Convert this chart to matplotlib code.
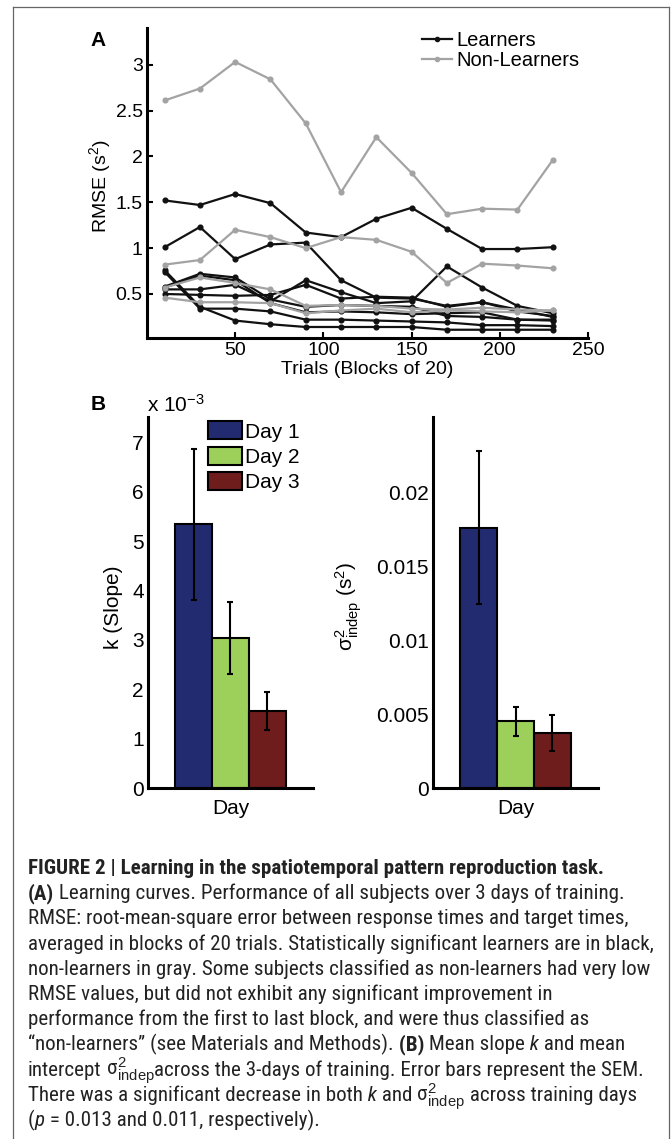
import matplotlib
matplotlib.use('Agg')
import matplotlib.pyplot as plt
from matplotlib import font_manager
from matplotlib.lines import Line2D
from matplotlib.patches import Patch

plt.rcParams['font.family'] = ['Liberation Sans', 'DejaVu Sans']
plt.rcParams['mathtext.fontset'] = 'custom'
plt.rcParams['mathtext.rm'] = 'Liberation Sans'
plt.rcParams['mathtext.it'] = 'Liberation Sans:italic'
plt.rcParams['mathtext.bf'] = 'Liberation Sans:bold'

# caption font: a narrow/condensed face if one is installed
cap_font, cap_stretch = 'Liberation Sans', 'normal'
entries = font_manager.fontManager.ttflist
narrow = [f.name for f in entries if 'Narrow' in f.name or 'Condensed' in f.name]
stretched = [f for f in entries if str(f.stretch) in ('condensed', 'semi-condensed', '500', '600', '700')
             and f.name in ('Liberation Sans', 'Roboto', 'Open Sans', 'DejaVu Sans', 'Noto Sans', 'Inter', 'Lato')]
if narrow:
    cap_font = sorted(narrow, key=lambda n: ('Liberation' not in n, 'Roboto' not in n))[0]
elif stretched:
    cap_font, cap_stretch = stretched[0].name, 'condensed'

# panel A: RMSE per block, one list per subject
trials = [10, 30, 50, 70, 90, 110, 130, 150, 170, 190, 210, 230]
l1 = [1.52, 1.47, 1.59, 1.49, 1.17, 1.12, 1.32, 1.44, 1.21, 0.99, 0.99, 1.01]
l2 = [1.01, 1.23, 0.88, 1.04, 1.06, 0.65, 0.46, 0.45, 0.37, 0.41, 0.33, 0.25]
l3 = [0.76, 0.36, 0.21, 0.17, 0.14, 0.14, 0.14, 0.14, 0.11, 0.11, 0.11, 0.11]
l4 = [0.74, 0.34, 0.34, 0.31, 0.22, 0.22, 0.21, 0.20, 0.19, 0.16, 0.16, 0.15]
l5 = [0.58, 0.72, 0.68, 0.44, 0.36, 0.38, 0.37, 0.36, 0.26, 0.25, 0.22, 0.22]
l6 = [0.55, 0.55, 0.60, 0.42, 0.65, 0.52, 0.40, 0.42, 0.80, 0.57, 0.37, 0.29]
l7 = [0.50, 0.49, 0.48, 0.49, 0.60, 0.45, 0.47, 0.46, 0.36, 0.41, 0.31, 0.26]
l8 = [0.57, 0.70, 0.65, 0.40, 0.30, 0.31, 0.30, 0.28, 0.29, 0.30, 0.22, 0.21]
n1 = [2.61, 2.74, 3.03, 2.84, 2.36, 1.61, 2.21, 1.82, 1.37, 1.43, 1.42, 1.96]
n2 = [0.82, 0.87, 1.20, 1.12, 1.00, 1.12, 1.09, 0.96, 0.62, 0.83, 0.81, 0.78]
n3 = [0.57, 0.68, 0.62, 0.55, 0.37, 0.38, 0.37, 0.34, 0.33, 0.35, 0.33, 0.32]
n4 = [0.46, 0.41, 0.41, 0.40, 0.29, 0.32, 0.34, 0.30, 0.32, 0.31, 0.30, 0.32]
learners = [l1, l2, l3, l4, l5, l6, l7, l8]
non_learners = [n1, n2, n3, n4]

# panel B: mean and SEM per day
days = ['Day 1', 'Day 2', 'Day 3']
slope_mean = [5.35, 3.05, 1.56]      # x 1e-3
slope_sem = [1.53, 0.73, 0.38]
indep_mean = [0.0176, 0.0045, 0.0037]
indep_sem = [0.0052, 0.0010, 0.0012]
day_colors = ['#222b70', '#9dd05a', '#6e1c1c']

W, H = 671, 1139
fig = plt.figure(figsize=(W / 100, H / 100), dpi=100)
fa = 14     # panel A text
fb = 15     # panel B text
black = '#111111'
gray = '#a3a3a3'


def style_axes(ax, ticklen, size):
    for s in ['top', 'right']:
        ax.spines[s].set_visible(False)
    for s in ['left', 'bottom']:
        ax.spines[s].set_linewidth(2.2)
    ax.tick_params(direction='in', length=ticklen, width=1.5, labelsize=size, pad=3)


# ---- panel A
ax = fig.add_axes([147 / W, 1 - 338 / H, 441 / W, 310 / H])
for y in learners:
    ax.plot(trials, y, color=black, lw=1.6, marker='o', ms=3.4)
for y in non_learners:
    ax.plot(trials, y, color=gray, lw=1.6, marker='o', ms=3.4)
ax.set_xlim(0, 250)
ax.set_ylim(0.02, 3.4)
ax.set_xticks([50, 100, 150, 200, 250])
ax.set_yticks([0.5, 1, 1.5, 2, 2.5, 3])
ax.set_yticklabels(['0.5', '1', '1.5', '2', '2.5', '3'])
style_axes(ax, 4, fa)
ax.text(-0.107, 0.49, 'RMSE (s$^2$)', transform=ax.transAxes, rotation=90,
        ha='center', va='center', fontsize=fa)
ax.text(0.5, -0.103, 'Trials (Blocks of 20)', transform=ax.transAxes,
        ha='center', va='center', fontsize=fa)
handles = [Line2D([], [], color=black, lw=1.6, marker='o', ms=3),
           Line2D([], [], color=gray, lw=1.6, marker='o', ms=3)]
ax.legend(handles, ['Learners', 'Non-Learners'], loc='upper left',
          bbox_to_anchor=(0.624, 0.99), frameon=False, fontsize=14.5,
          handlelength=1.5, handletextpad=0.2, labelspacing=0.05,
          borderpad=0, borderaxespad=0)

fig.text(98 / W, 1 - 40 / H, 'A', fontsize=15, fontweight='bold', ha='center', va='center')
fig.text(98 / W, 1 - 405 / H, 'B', fontsize=15, fontweight='bold', ha='center', va='center')

# ---- panel B
pos = [1, 2, 3]
axl = fig.add_axes([148 / W, 1 - 788 / H, 165 / W, 371 / H])
axl.bar(pos, slope_mean, width=1, color=day_colors, edgecolor='black', lw=1.5)
axl.errorbar(pos, slope_mean, yerr=slope_sem, fmt='none', ecolor='black',
             elinewidth=1.5, capsize=2, capthick=1.5)
axl.set_xlim(-0.23, 4.23)
axl.set_ylim(0, 7.52)
axl.set_yticks(range(8))
axl.set_xticks([])
style_axes(axl, 0, fb)
axl.text(-0.21, 0.488, 'k (Slope)', transform=axl.transAxes, rotation=90,
         ha='center', va='center', fontsize=fb)
axl.text(0.5, -0.055, 'Day', transform=axl.transAxes, ha='center', va='center', fontsize=fb)
fig.text(147 / W, 1 - 405 / H, 'x 10$^{-3}$', fontsize=fb, ha='left', va='center')
patches = [Patch(facecolor=c, edgecolor='black', lw=1.5) for c in day_colors]
axl.legend(patches, days, loc='upper left', bbox_to_anchor=(0.364, 0.988),
           frameon=False, fontsize=fb, handlelength=1.65, handleheight=0.95,
           handletextpad=0.12, labelspacing=0.25, borderpad=0, borderaxespad=0)

axr = fig.add_axes([433 / W, 1 - 788 / H, 165 / W, 371 / H])
axr.bar(pos, indep_mean, width=1, color=day_colors, edgecolor='black', lw=1.5)
axr.errorbar(pos, indep_mean, yerr=indep_sem, fmt='none', ecolor='black',
             elinewidth=1.5, capsize=2, capthick=1.5)
axr.set_xlim(-0.23, 4.23)
axr.set_ylim(0, 0.02507)
axr.set_yticks([0, 0.005, 0.01, 0.015, 0.02])
axr.set_yticklabels(['0', '0.005', '0.01', '0.015', '0.02'])
axr.set_xticks([])
style_axes(axr, 0, fb)
axr.text(-0.51, 0.49, r'$\mathrm{\sigma}^2_{\mathrm{indep}}$ (s$^2$)', transform=axr.transAxes,
         rotation=90, ha='center', va='center', fontsize=fb)
axr.text(0.5, -0.055, 'Day', transform=axr.transAxes, ha='center', va='center', fontsize=fb)

# ---- frame
for xs, ys in [([13, 13], [7, H]), ([13, 669], [7, 7]), ([669, 669], [7, H])]:
    fig.add_artist(Line2D([x / W for x in xs], [1 - y / H for y in ys],
                          color='#666666', lw=0.9))

# ---- caption
renderer = fig.canvas.get_renderer()
cap_x = 28
B = {'fontweight': 'bold'}
I = {'style': 'italic'}
N = {}
sig = r'σ$^2_{\mathrm{indep}}$'
cap_lines = [
    [('FIGURE 2 | Learning in the spatiotemporal pattern reproduction task.', B)],
    [('(A)', B), (' Learning curves. Performance of all subjects over 3 days of training.', N)],
    [('RMSE: root-mean-square error between response times and target times,', N)],
    [('averaged in blocks of 20 trials. Statistically significant learners are in black,', N)],
    [('non-learners in gray. Some subjects classified as non-learners had very low', N)],
    [('RMSE values, but did not exhibit any significant improvement in', N)],
    [('performance from the first to last block, and were thus classified as', N)],
    [('\u201cnon-learners\u201d (see Materials and Methods).', N), (' (B)', B),
     (' Mean slope', N), (' k', I), (' and mean', N)],
    [('intercept', N), (' ' + sig, N), ('across the 3-days of training. Error bars represent the SEM.', N)],
    [('There was a significant decrease in both', N), (' k', I), (' and', N), (' ' + sig, N),
     (' across training days', N)],
    [('(', N), ('p', I), (' = 0.013 and 0.011, respectively).', N)],
]


def draw_caption(size):
    texts, widest = [], 0
    for i, parts in enumerate(cap_lines):
        y = 868 + i * 25.2 + 6
        x = cap_x
        for s, kw in parts:
            t = fig.text(x / W, 1 - y / H, s, ha='left', va='baseline', fontsize=size,
                         family=[cap_font, 'DejaVu Sans'], stretch=cap_stretch,
                         color='#222222', **kw)
            x += t.get_window_extent(renderer).width
            texts.append(t)
        widest = max(widest, x - cap_x)
    return texts, widest


texts, widest = draw_caption(15)
for t in texts:
    t.remove()
draw_caption(min(15.5, 15 * 626 / widest))

fig.savefig('out.png', dpi=100, facecolor='white')
